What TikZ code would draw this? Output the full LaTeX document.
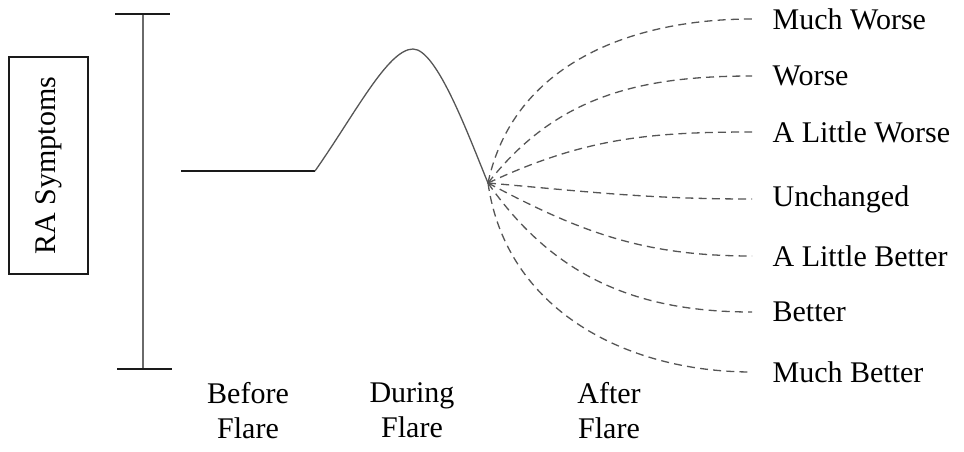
\documentclass[tikz,border=0pt]{standalone}
\usepackage{fontspec}
\setmainfont{Liberation Serif}
\definecolor{flareInk}{HTML}{1A1A1A}
\definecolor{flareDash}{HTML}{555555}
\definecolor{flareAxis}{HTML}{6A6A6A}

\begin{document}
\begin{tikzpicture}[
    x=0.5pt, y=-0.5pt,
    line width=0.65pt,
    every node/.style={font=\fontsize{15}{17.5}\selectfont, inner sep=0pt},
    tick/.style={flareInk, line width=0.8pt},
    outcome/.style={flareDash, dash pattern=on 4pt off 2.6pt},
    phase/.style={align=center, anchor=north},
  ]
  \useasboundingbox (0,0) rectangle (964,451);

  % Symptom scale on the left
  \node[draw=flareInk, line width=0.8pt, rotate=90, minimum width=108.5pt,
        minimum height=39.5pt] (ra) at (48.5,165.5) {RA Symptoms};
  \coordinate (axtop) at (143,14);
  \coordinate (axbot) at (143,369);
  \draw[flareAxis] (axtop) -- (axbot);
  \draw[tick] ([xshift=-14pt]axtop) -- ([xshift=13.5pt]axtop);
  \draw[tick] ([xshift=-13pt]axbot) -- ([xshift=14.5pt]axbot);

  % The flare itself
  \coordinate (calm) at (181,171);
  \coordinate (rise) at (315,171);
  \coordinate (peak) at (413,49);
  \coordinate (split) at (488,183);
  \draw[flareInk] (calm) -- (rise);
  \draw[flareDash] (rise) .. controls (355,114) and (388,49) .. (peak)
    .. controls (437,49) and (469,137) .. (split);

  % Possible outcomes after the flare
  \foreach \name/\txt/\yy/\ang in {mw/Much Worse/19/78, w/Worse/76/52,
      lw/A Little Worse/132/25, un/Unchanged/199/-5, lb/A Little Better/256/-28,
      b/Better/312/-55, mb/Much Better/372/-82} {
    \node[anchor=west] (\name) at (772,\yy) {\txt};
    \draw[outcome] (split) to[out=\ang,in=180] ([xshift=-10pt]\name.west);
  }

  % Phases along the bottom
  \node[phase] (before) at (248,382) {Before\\Flare};
  \node[phase] (during) at (412,382) {During\\Flare};
  \node[phase] (after) at (609,382) {After\\Flare};
\end{tikzpicture}
\end{document}
